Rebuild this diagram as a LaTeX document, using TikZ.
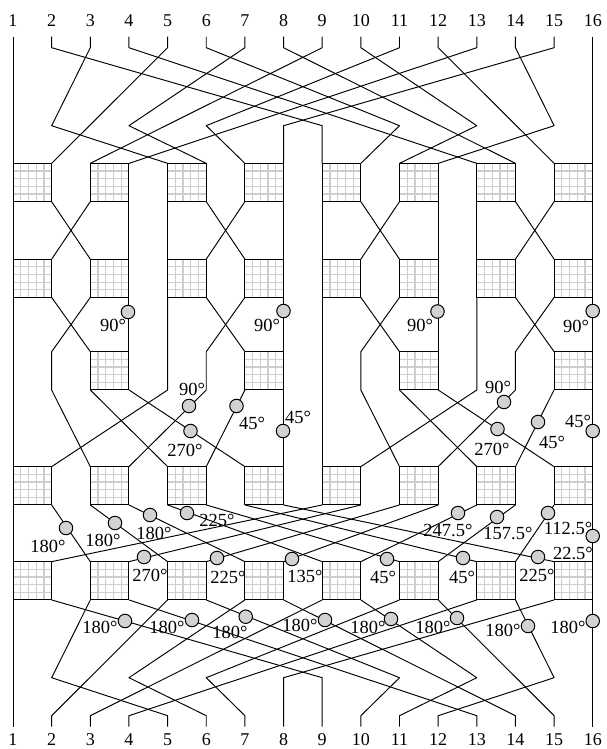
\documentclass[tikz,border=0pt]{standalone}
\usepackage{fontspec}
\setmainfont{Liberation Serif}
\usetikzlibrary{calc}
\definecolor{gridgray}{RGB}{205,205,205}
\definecolor{phasegray}{RGB}{210,210,210}
\tikzset{
  wire/.style={line width=0.95pt,line join=round},
  gridline/.style={gridgray,line width=1.2pt},
  switchbox/.style={draw,line width=0.95pt,inner sep=0pt,outer sep=0pt,minimum width=38.65pt,minimum height=38.3pt,
    path picture={\foreach \g in {1,...,4} {
      \draw[gridline] ($(path picture bounding box.south west)!\g/5!(path picture bounding box.south east)$) -- ($(path picture bounding box.north west)!\g/5!(path picture bounding box.north east)$);
      \draw[gridline] ($(path picture bounding box.south west)!\g/5!(path picture bounding box.north west)$) -- ($(path picture bounding box.south east)!\g/5!(path picture bounding box.north east)$);}}},
  phase/.style={circle,draw,fill=phasegray,line width=1pt,inner sep=0pt,minimum size=13.5pt},
  deg/.style={font=\fontsize{18.5}{20}\selectfont,inner sep=0pt},
  pinlabel/.style={font=\fontsize{18}{20}\selectfont,inner sep=0pt}
}
\begin{document}
\begin{tikzpicture}[x=1pt,y=-1pt]
  \useasboundingbox (0,0) rectangle (606,749);
  % column coordinates and pin labels
  \foreach \i in {1,...,16} {
    \pgfmathsetmacro{\xx}{13+(\i-1)*38.65}
    \coordinate (i\i) at (\xx,36.7);
    \coordinate (k\i) at (\xx,47.7);
    \coordinate (m\i) at (\xx,125.7);
    \coordinate (q\i) at (\xx,351.7);
    \coordinate (s\i) at (\xx,390);
    \coordinate (n\i) at (\xx,677.7);
    \coordinate (l\i) at (\xx,715.7);
    \coordinate (e\i) at (\xx,726.7);
    \node[pinlabel] (tl\i) at (\xx,21) {\i};
    \node[pinlabel] (bl\i) at (\xx,739.5) {\i};
  }
  % switch boxes
  \foreach \r/\y/\js in {1/182.5/{1,...,8},2/278.3/{1,...,8},3/370.8/{2,4,6,8},4/485.8/{1,...,8},5/580.8/{1,...,8}} {
    \foreach \j in \js {
      \pgfmathsetmacro{\xc}{13+(2*\j-2)*38.65+19.325}
      \pgfmathtruncatemacro{\pa}{2*\j-1}
      \pgfmathtruncatemacro{\pb}{2*\j}
      \node[switchbox] (b\r-\j) at (\xc,\y) {};
      \coordinate (p\r t\pa) at (b\r-\j.north west);
      \coordinate (p\r t\pb) at (b\r-\j.north east);
      \coordinate (p\r b\pa) at (b\r-\j.south west);
      \coordinate (p\r b\pb) at (b\r-\j.south east);
    }
  }
  % first and last stage
  \draw[wire] (i1) -- (p1t1) (i16) -- (p1t16) (p5b1) -- (e1) (p5b16) -- (e16);
  \foreach \a/\b/\c in {2/9/9,3/2/5,6/11/10,7/4/6,10/13/11,11/6/7,14/15/12,15/8/8} {
    \draw[wire] (i\a) -- (k\a) -- (m\b) -- (p1t\c);
    \draw[wire] (p5b\a) -- (n\b) -- (l\c) -- (e\c);
  }
  \foreach \a/\c in {4/13,5/2,8/14,9/3,12/15,13/4} {
    \draw[wire] (i\a) -- (k\a) -- (p1t\c);
    \draw[wire] (p5b\a) -- (l\c) -- (e\c);
  }
  % row 1 to row 2
  \foreach \a/\b in {1/1,2/3,3/2,4/4,5/5,6/7,7/6,8/8,9/9,10/11,11/10,12/12,13/13,14/15,15/14,16/16}
    \draw[wire] (p1b\a) -- (p2t\b);
  % row 2 to rows 3 and 4
  \foreach \a/\b in {2/3,4/4,6/7,8/8,10/11,12/12,14/15,16/16}
    \draw[wire] (p2b\a) -- (p3t\b);
  \foreach \a/\b in {1/1,9/9}
    \draw[wire] (p2b\a) -- (p4t\b);
  \foreach \a/\b/\c in {3/2/3,7/6/4,11/10/11,15/14/12}
    \draw[wire] (p2b\a) -- (q\b) -- (s\b) -- (p4t\c);
  \foreach \a/\c in {5/2,13/10}
    \draw[wire] (p2b\a) -- (s\a) -- (p4t\c);
  % row 3 to row 4
  \foreach \a/\b in {3/5,4/7,7/6,8/8,11/13,12/15,15/14,16/16}
    \draw[wire] (p3b\a) -- (p4t\b);
  % row 4 to row 5
  \foreach \a/\b in {1/1,2/3,3/5,4/7,5/9,6/11,7/13,8/15,9/2,10/4,11/6,12/8,13/10,14/12,15/14,16/16}
    \draw[wire] (p4b\a) -- (p5t\b);
  % phase shifters with their angles
  \foreach \n/\cx/\cy/\lx/\ly/\t in {
    1/128/312/113/325/90,2/283.5/311/267/325/90,3/437.5/311.5/420/325/90,4/592.7/311/576/326/90,
    5/189/406/192/389/90,6/236.5/406/252/423/45,7/190.5/431/185/450/270,8/283/431/298/417/45,
    9/504/402/498/387/90,10/538/422/552/442/45,11/497.5/429/492/449/270,12/592.7/431/578/421/45,
    13/66/528/48/546/180,14/115/523/103/540/180,15/150/515/154/533/180,16/187/513/217/520/225,
    17/458/513/448/530/247.5,18/497/517/508/533/157.5,19/548/513/568/528/112.5,20/592.7/536/573/553/22.5,
    21/144/557/150/575/270,22/217/558/228/577/225,23/292/559/305/576/135,24/387/559/383/577/45,
    25/463/558/462/577/45,26/538/557/537/575/225,
    27/125/621/100/627/180,28/192/620/167/627/180,29/245.7/616.7/230/632/180,30/325/620/300/625/180,
    31/391/619/368/627/180,32/457/618/433/627/180,33/528/626/503/630/180,34/592.7/621/568/627/180} {
    \node[phase] (c\n) at (\cx,\cy) {};
    \node[deg] (d\n) at (\lx,\ly) {\t°};
  }
\end{tikzpicture}
\end{document}
